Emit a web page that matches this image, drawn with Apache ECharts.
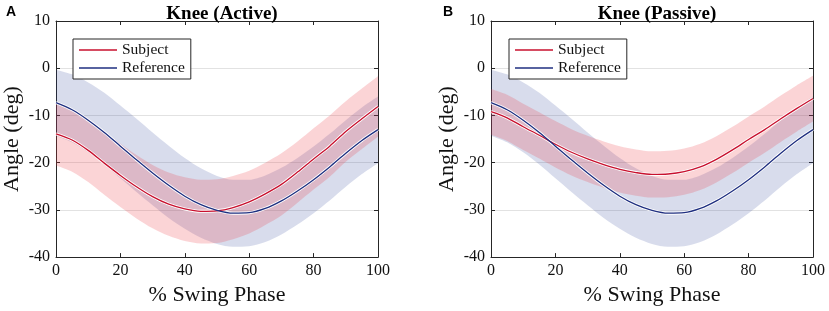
<!DOCTYPE html>
<html>
<head>
<meta charset="utf-8">
<script src="https://cdn.jsdelivr.net/npm/echarts@6/dist/echarts.min.js"></script>
<style>html,body{margin:0;padding:0;background:#fff;}#c{width:829px;height:311px;}</style>
</head>
<body>
<div id="c"></div>
<script>
// % swing phase samples
var phase = [0,5,10,15,20,25,30,35,40,45,50,55,60,65,70,75,80,85,90,95,100];
var xTicks = [0,20,40,60,80,100];
var yTicks = [-40,-30,-20,-10,0,10];

// Reference (same in both panels)
var refMean  = [-7.3,-8.8,-11.0,-13.6,-16.5,-19.4,-22.2,-24.8,-27.1,-28.9,-30.1,-30.7,-30.6,-29.7,-28.1,-26.0,-23.6,-20.9,-18.0,-15.3,-13.0];
var refUpper = [-0.3,-1.3,-3.0,-5.2,-7.9,-10.7,-13.6,-16.4,-19.0,-21.2,-22.8,-23.6,-23.6,-22.7,-21.1,-19.0,-16.6,-13.9,-11.0,-8.3,-6.0];
var refLower = [-14.3,-15.7,-17.8,-20.4,-23.3,-26.2,-29.0,-31.7,-34.0,-35.9,-37.2,-37.8,-37.7,-36.8,-35.2,-33.1,-30.7,-28.0,-25.1,-22.4,-20.1];

// Subject, Active
var actMean  = [-13.9,-15.2,-17.4,-20.1,-22.7,-25.1,-27.2,-28.8,-29.8,-30.3,-30.2,-29.5,-28.3,-26.6,-24.6,-22.0,-19.2,-16.5,-13.4,-10.7,-8.1];
var actUpper = [-7.3,-8.6,-10.7,-13.4,-16.0,-18.4,-20.5,-22.1,-23.1,-23.6,-23.5,-22.8,-21.7,-20.0,-18.0,-15.5,-12.7,-10.0,-7.0,-4.3,-1.7];
var actLower = [-20.6,-21.9,-24.1,-26.8,-29.4,-31.8,-33.9,-35.5,-36.6,-37.1,-37.0,-36.2,-35.0,-33.2,-31.2,-28.5,-25.7,-23.0,-19.8,-17.1,-14.5];

// Subject, Passive
var pasMean  = [-9.2,-10.5,-12.4,-14.2,-16.1,-17.8,-19.2,-20.4,-21.4,-22.1,-22.5,-22.4,-21.9,-20.9,-19.3,-17.3,-15.1,-13.0,-10.7,-8.5,-6.4];
var pasUpper = [-4.4,-5.6,-7.5,-9.3,-11.2,-12.9,-14.3,-15.5,-16.5,-17.2,-17.6,-17.5,-17.0,-16.0,-14.4,-12.4,-10.2,-8.1,-5.8,-3.6,-1.6];
var pasLower = [-14.1,-15.4,-17.3,-19.1,-21.0,-22.7,-24.1,-25.3,-26.3,-27.0,-27.4,-27.3,-26.8,-25.8,-24.2,-22.2,-20.0,-17.9,-15.6,-13.4,-11.3];

var titles = ['Knee (Active)', 'Knee (Passive)'];
var panelLetters = ['A', 'B'];

var RED = '#c8102e', BLUE = '#1f2f80';
var RED_BAND = 'rgba(235,60,70,0.22)', BLUE_BAND = 'rgba(40,60,150,0.18)';
var AX = '#262626';
var SERIF = '"Liberation Serif","Times New Roman",serif';

var cats = phase.map(String);
function thick(u,l){ return u.map(function(v,i){ return +(l[i]-v).toFixed(3); }); }

var grids = [
  {left:56, top:21, width:322, height:238},
  {left:491, top:21, width:322, height:238}
];

var xAxes = [], yAxes = [], series = [], legends = [], titleComps = [];
var subj = [[actMean,actUpper,actLower],[pasMean,pasUpper,pasLower]];

function tickShown(idx, val){ return xTicks.indexOf(+val) >= 0; }

for (var g=0; g<2; g++){
  xAxes.push({gridIndex:g, type:'category', data:cats, boundaryGap:false, position:'bottom',
    axisLine:{show:true, onZero:false, lineStyle:{color:AX, width:1}},
    axisTick:{show:true, inside:true, length:4, interval:tickShown, lineStyle:{color:AX}},
    axisLabel:{show:true, margin:6, interval:tickShown, fontFamily:SERIF, fontSize:16, color:'#111'},
    splitLine:{show:false},
    name:'% Swing Phase', nameLocation:'middle', nameGap:24,
    nameTextStyle:{fontFamily:SERIF, fontSize:22, color:'#111'}});
  xAxes.push({gridIndex:g, type:'category', data:cats, boundaryGap:false, position:'top',
    axisLine:{show:true, onZero:false, lineStyle:{color:AX, width:1}},
    axisTick:{show:true, inside:true, length:4, interval:tickShown, lineStyle:{color:AX}},
    axisLabel:{show:false}, splitLine:{show:false}});
  yAxes.push({gridIndex:g, type:'value', min:-40, max:10, interval:10, position:'left',
    axisLine:{show:true, onZero:false, lineStyle:{color:AX, width:1}},
    axisTick:{show:true, inside:true, length:4, lineStyle:{color:AX}},
    axisLabel:{show:true, margin:6, fontFamily:SERIF, fontSize:16, color:'#111',
      formatter:function(v){ return yTicks.indexOf(v)>=0 ? String(v) : ''; }},
    splitLine:{show:true, lineStyle:{color:'#e2e2e2', width:1}},
    name:'Angle (deg)', nameLocation:'middle', nameGap:33,
    nameTextStyle:{fontFamily:SERIF, fontSize:22, color:'#111'}});
  yAxes.push({gridIndex:g, type:'value', min:-40, max:10, interval:10, position:'right',
    axisLine:{show:true, onZero:false, lineStyle:{color:AX, width:1}},
    axisTick:{show:true, inside:true, length:4, lineStyle:{color:AX}},
    axisLabel:{show:false}, splitLine:{show:false}});

  var xi = g*2, yi = g*2;
  var sm = subj[g];
  // reference band: upper edge, then negative thickness stacked on it
  series.push({name:'refHi'+g, type:'line', xAxisIndex:xi, yAxisIndex:yi, stack:'ref'+g, data:refUpper,
    symbol:'none', smooth:0.3, lineStyle:{opacity:0}, silent:true, z:1});
  series.push({name:'refBand'+g, type:'line', xAxisIndex:xi, yAxisIndex:yi, stack:'ref'+g, data:thick(refUpper,refLower),
    symbol:'none', smooth:0.3, lineStyle:{opacity:0}, areaStyle:{color:BLUE_BAND, opacity:1}, silent:true, z:1});
  // subject band
  series.push({name:'subHi'+g, type:'line', xAxisIndex:xi, yAxisIndex:yi, stack:'sub'+g, data:sm[1],
    symbol:'none', smooth:0.3, lineStyle:{opacity:0}, silent:true, z:2});
  series.push({name:'subBand'+g, type:'line', xAxisIndex:xi, yAxisIndex:yi, stack:'sub'+g, data:thick(sm[1],sm[2]),
    symbol:'none', smooth:0.3, lineStyle:{opacity:0}, areaStyle:{color:RED_BAND, opacity:1}, silent:true, z:2});
  // white halos
  series.push({name:'refHalo'+g, type:'line', xAxisIndex:xi, yAxisIndex:yi, data:refMean,
    symbol:'none', smooth:0.3, lineStyle:{color:'#fff', width:3}, silent:true, z:3});
  series.push({name:'subHalo'+g, type:'line', xAxisIndex:xi, yAxisIndex:yi, data:sm[0],
    symbol:'none', smooth:0.3, lineStyle:{color:'#fff', width:3}, silent:true, z:3});
  // mean lines
  series.push({name:'Subject', type:'line', xAxisIndex:xi, yAxisIndex:yi, data:sm[0], color:RED,
    symbol:'none', smooth:0.3, lineStyle:{color:RED, width:1.3}, z:4});
  series.push({name:'Reference', type:'line', xAxisIndex:xi, yAxisIndex:yi, data:refMean, color:BLUE,
    symbol:'none', smooth:0.3, lineStyle:{color:BLUE, width:1.3}, z:4});

  legends.push({data:['Subject','Reference'], orient:'vertical', left: g===0 ? 73 : 509, top:39,
    icon:'rect', itemWidth:38, itemHeight:1.5, itemGap:2, padding:[3,6,3,6],
    borderColor:AX, borderWidth:1, backgroundColor:'#fff', selectedMode:false,
    textStyle:{fontFamily:SERIF, fontSize:15.5, color:'#111', padding:[0,0,0,0]}});

  var cx = grids[g].left + grids[g].width/2;
  titleComps.push({text:titles[g], left:cx, top:0, textAlign:'center',
    textStyle:{fontFamily:SERIF, fontWeight:'bold', fontSize:19, color:'#000'}});
  titleComps.push({text:panelLetters[g], left: g===0 ? 1 : 438, top:0,
    textStyle:{fontFamily:'"Liberation Sans",Arial,sans-serif', fontWeight:'bold', fontSize:14, color:'#000'}});
}

var chart = echarts.init(document.getElementById('c'), null, {renderer:'canvas'});
chart.setOption({
  animation:false,
  backgroundColor:'#fff',
  title:titleComps,
  legend:legends,
  grid:grids,
  xAxis:xAxes,
  yAxis:yAxes,
  series:series
});
</script>
</body>
</html>
